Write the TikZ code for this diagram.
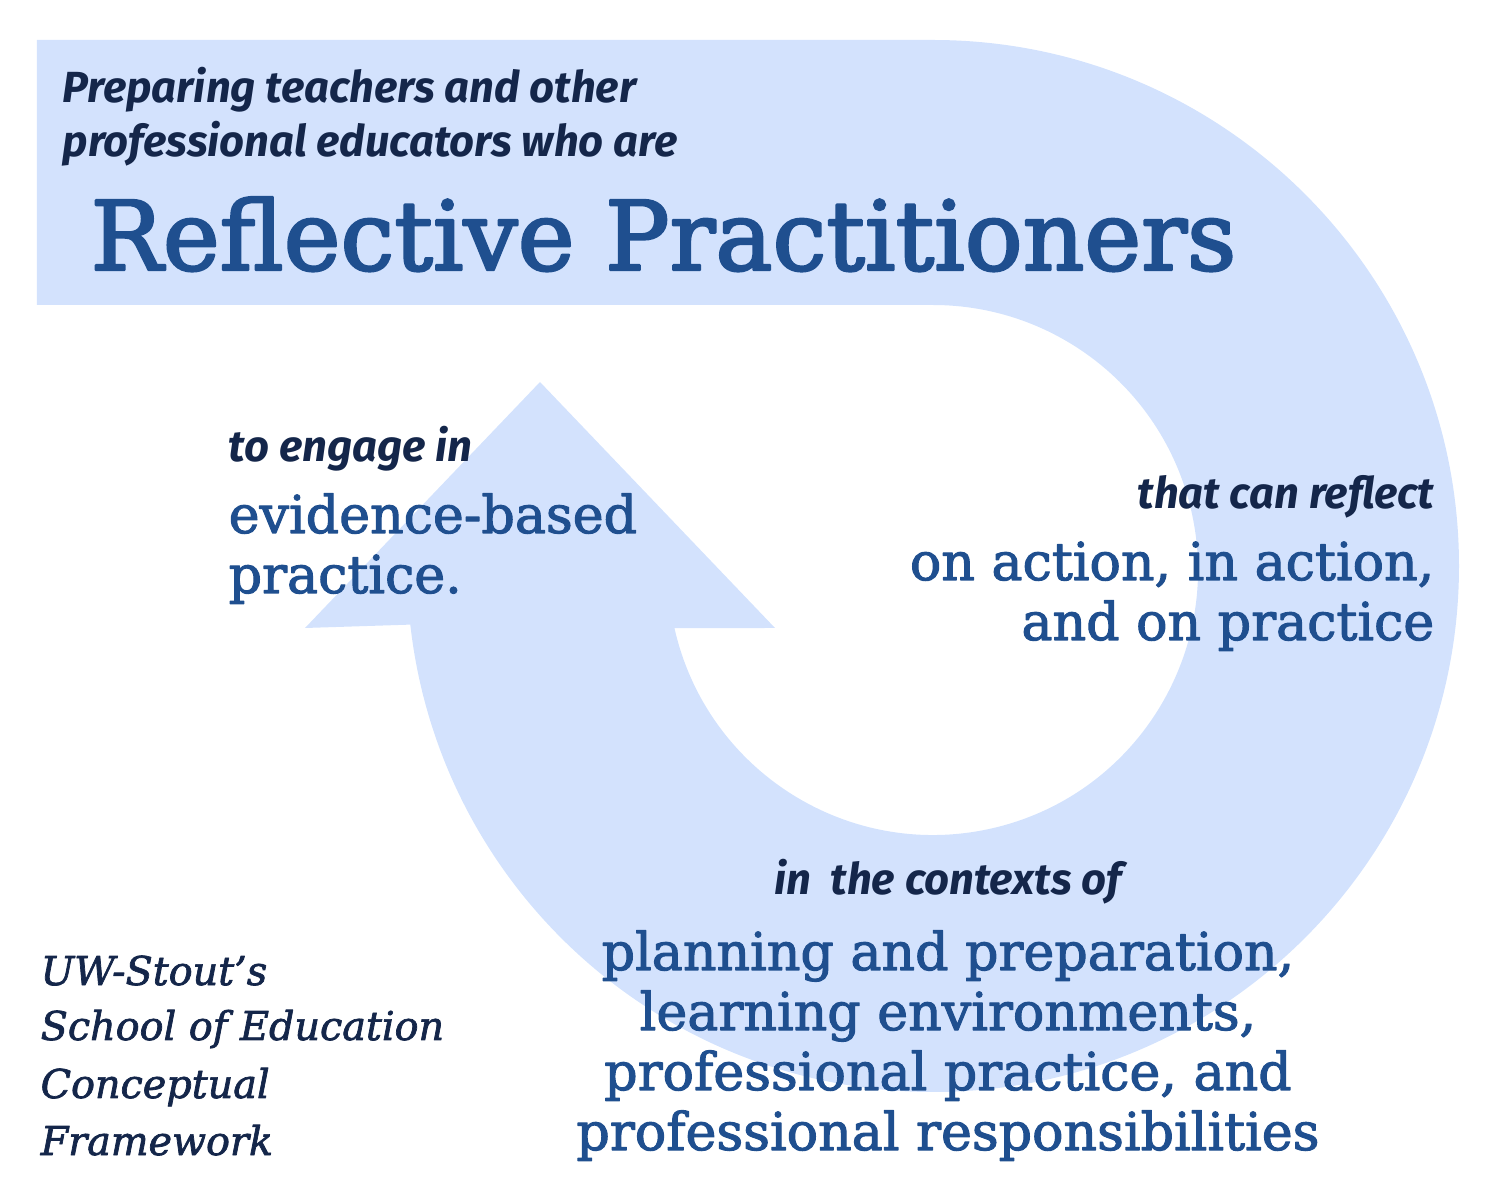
\documentclass[tikz,border=0pt]{standalone}
\usepackage{fontspec}
\setmainfont{DejaVu Serif}
\setsansfont{Fira Sans}
\newfontfamily\phrasefont{DejaVu Serif}[FakeBold=2]
\newfontfamily\titlefont{DejaVu Serif}[FakeBold=2.6]
\newfontfamily\captionfont{DejaVu Serif}[FakeBold=1.8]
\definecolor{ringblue}{HTML}{D3E2FD}
\definecolor{deepblue}{HTML}{1F4F8F}
\definecolor{navy}{HTML}{14264A}
\tikzset{
  lead/.style={inner sep=0pt, text=navy, font=\sffamily\bfseries\itshape\fontsize{12.4}{15}\selectfont},
  phrase/.style={inner sep=0pt, text=deepblue, font=\phrasefont\fontsize{14.85}{18}\selectfont},
  caption/.style={inner sep=0pt, text=navy, font=\captionfont\itshape\fontsize{11.3}{14}\selectfont}
}
\begin{document}
\begin{tikzpicture}[line join=round]
\def\cx{9.33} \def\cy{6.30} % centre of the ring
\def\R{5.26} \def\r{2.65}
\useasboundingbox (0,0) rectangle (15,12);
% banner, ring and arrow head
\fill[ringblue] (0.37,11.60)--(\cx,11.60) arc[start angle=90, end angle=-173.6, radius=\R]
  --(3.05,5.72)--(5.40,8.18)--(7.75,5.72)--([shift={(\cx,\cy)}]-167.35:\r)
  arc[start angle=-167.35, end angle=90, radius=\r]--(0.37,8.95)--cycle;
\node[phrase, anchor=base west, font=\titlefont\fontsize{27.3}{30}\selectfont] (title) at (0.90,9.30) {Reflective Practitioners};
\node[lead, anchor=base west] (prep1) at (0.62,10.97) {Preparing teachers and other};
\node[lead, anchor=base west] (prep2) at (0.62,10.43) {professional educators who are};
\node[lead, anchor=base west] (engage) at (2.28,7.38) {to engage in};
\node[phrase, anchor=base west] (ebp1) at (2.28,6.67) {evidence-based};
\node[phrase, anchor=base west] (ebp2) at (2.28,6.07) {practice.};
\node[lead, anchor=base east] (reflect) at (14.35,6.91) {that can reflect};
\node[phrase, anchor=base east] (act1) at (14.35,6.20) {on action, in action,};
\node[phrase, anchor=base east] (act2) at (14.35,5.60) {and on practice};
\node[lead, anchor=base] (ctx) at (9.48,3.05) {in\ \ the contexts of};
\foreach \t/\y [count=\i] in {{planning and preparation,}/2.30, {learning environments,}/1.70,
  {professional practice, and}/1.10, {professional responsibilities}/0.50}
  \node[phrase, anchor=base] (area\i) at (9.48,\y) {\t};
\foreach \t/\y [count=\i] in {UW-Stout’s/2.15, School of Education/1.60, Conceptual/1.02, Framework/0.45}
  \node[caption, anchor=base west] (uws\i) at (0.40,\y) {\t};
\end{tikzpicture}
\end{document}
